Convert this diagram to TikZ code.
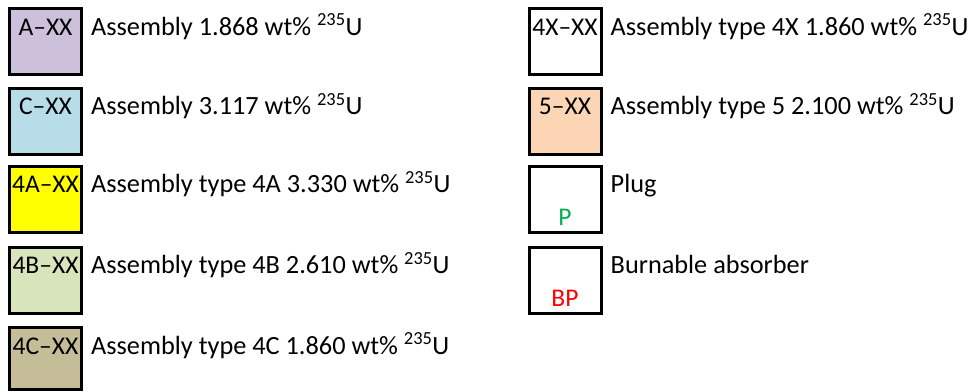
\documentclass[tikz,border=0pt]{standalone}
\usepackage{fontspec}
\setmainfont{Carlito}
\usetikzlibrary{positioning, calc}
\usepackage{xcolor}
\definecolor{keyA}{RGB}{204,192,218}
\definecolor{keyC}{RGB}{183,222,232}
\definecolor{keyFourA}{RGB}{255,255,0}
\definecolor{keyFourB}{RGB}{216,228,188}
\definecolor{keyFourC}{RGB}{196,189,151}
\definecolor{keyFive}{RGB}{252,213,180}
\definecolor{plugcolor}{RGB}{0,176,80}
\definecolor{bpcolor}{RGB}{255,0,0}
\tikzset{
  keybox/.style  = {draw=black, line width=3pt, minimum width=72pt,
                    minimum height=66pt, inner sep=0pt},
  keylabel/.style = {anchor=base, inner sep=0pt},
  desc/.style    = {anchor=base west, inner sep=0pt, font=\fontsize{26.3}{30}\selectfont},
}

\begin{document}
\begin{tikzpicture}[
    x=1pt, y=-1pt,
    every node/.style={font=\fontsize{25.5}{30}\selectfont},
]
\useasboundingbox (0,0) rectangle (973,391);

% ---------------- left column ----------------
\node[keybox, fill=keyA] (a) at (45.5,41.5) {};
\node[keybox, fill=keyC] (c) at (45.5,121.25) {};
\node[keybox, fill=keyFourA] (fa) at (45.5,199) {};
\node[keybox, fill=keyFourB] (fb) at (45.5,280) {};
\node[keybox, fill=keyFourC, minimum height=62pt] (fc) at (45.5,358.5) {};

\node[keylabel] at ($(a.north)+(0,28)$) {A--XX};
\node[keylabel] at ($(c.north)+(0,28)$) {C--XX};
\node[keylabel] at ($(fa.north)+(0,28)$) {4A--XX};
\node[keylabel] at ($(fb.north)+(0,28)$) {4B--XX};
\node[keylabel] at ($(fc.north)+(0,28)$) {4C--XX};

\node[desc] at ($(a.north east)+(8,28)$) {Assembly 1.868 wt\% \textsuperscript{235}U};
\node[desc] at ($(c.north east)+(8,28)$) {Assembly 3.117 wt\% \textsuperscript{235}U};
\node[desc] at ($(fa.north east)+(8,28)$) {Assembly type 4A 3.330 wt\% \textsuperscript{235}U};
\node[desc] at ($(fb.north east)+(8,28)$) {Assembly type 4B 2.610 wt\% \textsuperscript{235}U};
\node[desc] at ($(fc.north east)+(8,28)$) {Assembly type 4C 1.860 wt\% \textsuperscript{235}U};

% ---------------- right column ----------------
\node[keybox, fill=white] (fx) at (565,41.5) {};
\node[keybox, fill=keyFive] (five) at (565,121.25) {};
\node[keybox, fill=white] (plug) at (565,199) {};
\node[keybox, fill=white] (bp) at (565,280) {};

\node[keylabel] at ($(fx.north)+(0,28)$) {4X--XX};
\node[keylabel] at ($(five.north)+(0,28)$) {5--XX};
\node[keylabel, plugcolor] at ($(plug.south)+(0,-8)$) {P};
\node[keylabel, bpcolor] at ($(bp.south)+(0,-8)$) {BP};

\node[desc] at ($(fx.north east)+(8,28)$) {Assembly type 4X 1.860 wt\% \textsuperscript{235}U};
\node[desc] at ($(five.north east)+(8,28)$) {Assembly type 5 2.100 wt\% \textsuperscript{235}U};
\node[desc] at ($(plug.north east)+(8,28)$) {Plug};
\node[desc] at ($(bp.north east)+(8,28)$) {Burnable absorber};

\end{tikzpicture}
\end{document}
